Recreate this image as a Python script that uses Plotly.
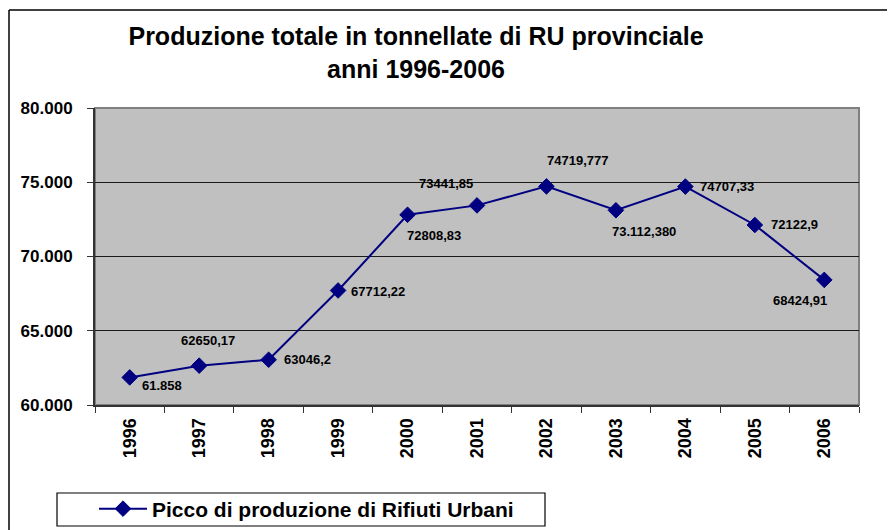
import plotly.graph_objects as go

years = ["1996", "1997", "1998", "1999", "2000", "2001", "2002", "2003", "2004", "2005", "2006"]
values = [61858, 62650.17, 63046.2, 67712.22, 72808.83, 73441.85, 74719.777, 73112.380, 74707.33, 72122.9, 68424.91]
value_labels = ["61.858", "62650,17", "63046,2", "67712,22", "72808,83", "73441,85",
                "74719,777", "73.112,380", "74707,33", "72122,9", "68424,91"]
series_name = "Picco di produzione di Rifiuti Urbani"
title_text = "Produzione totale in tonnellate di RU provinciale<br>anni 1996-2006"

# label placement styles (anchor, x offset px, y offset px)
label_style = [
    ("left", 10, -8), ("center", 9, 25), ("left", 13, 0), ("left", 11, -1),
    ("left", -3, -21), ("right", -2, 22), ("left", -1, 26), ("left", -6, -21),
    ("left", 13, 0), ("left", 14, 0), ("right", 5, -21),
]

OFF = 8  # page body margin
W, H = 895 - OFF, 530 - OFF
L, R, T, B = 95, 859, 108, 405  # plot area in reference pixels
pw, ph = R - L, B - T

def px(x):
    return (x - L) / pw

def py(y):
    return (B - y) / ph

FONT = "Arial, 'Liberation Sans', sans-serif"
NAVY = "#000080"

xpos = list(range(len(years)))  # category slots

fig = go.Figure()
fig.add_trace(go.Scatter(
    x=xpos, y=values, mode="lines+markers", name=series_name,
    line=dict(color=NAVY, width=2),
    marker=dict(symbol="diamond", size=12, color=NAVY, line=dict(color=NAVY, width=1)),
    showlegend=True,
))

annotations = []
for xi, v, txt, (anc, dx, dy) in zip(xpos, values, value_labels, label_style):
    annotations.append(dict(
        x=xi, y=v, xref="x", yref="y", text=txt, showarrow=False,
        xanchor=anc, yanchor="middle", xshift=dx, yshift=dy,
        font=dict(family=FONT, size=13, color="black", weight="bold"),
    ))

shapes = [
    dict(type="rect", xref="paper", yref="paper", x0=0, y0=0, x1=1, y1=1,
         line=dict(color="#808080", width=2), layer="below"),
    dict(type="line", xref="paper", yref="paper", x0=px(9), y0=py(10), x1=px(910), y1=py(10),
         line=dict(color="black", width=1.5)),
    dict(type="line", xref="paper", yref="paper", x0=px(9), y0=py(10), x1=px(9), y1=py(545),
         line=dict(color="black", width=1.5)),
    dict(type="rect", xref="paper", yref="paper", x0=px(57), y0=py(526), x1=px(545), y1=py(493),
         line=dict(color="black", width=1.2)),
]

fig.update_layout(
    width=W, height=H,
    margin=dict(l=L - OFF, r=895 - R, t=T - OFF, b=530 - B, autoexpand=False),
    paper_bgcolor="white", plot_bgcolor="#C0C0C0",
    separators=",.",
    title=dict(text=title_text, x=(416 - OFF) / W, xref="container", xanchor="center",
               y=1 - 37 / H, yref="container", yanchor="top",
               font=dict(family=FONT, size=25, color="black", weight="bold")),
    xaxis=dict(range=[-0.5, len(years) - 0.5], tickmode="array", tickvals=xpos, ticktext=years,
               ticks="", tickangle=-90, showgrid=False, zeroline=False,
               minor=dict(tickmode="linear", tick0=-0.5, dtick=1, ticks="outside", ticklen=6,
                          tickcolor="#333333", tickwidth=1, showgrid=False),
               showline=True, linecolor="#333333", linewidth=2,
               ticklabelstandoff=4, automargin=False,
               tickfont=dict(family=FONT, size=18, color="black", weight="bold")),
    yaxis=dict(range=[60000, 80000], dtick=5000, tickformat=",d", ticks="outside",
               ticklen=6, tickcolor="#333333", showgrid=True, gridcolor="#1a1a1a",
               gridwidth=1, showline=True, linecolor="#333333", linewidth=2,
               ticklabelstandoff=11, zeroline=False, automargin=False,
               tickfont=dict(family=FONT, size=17, color="black", weight="bold")),
    legend=dict(orientation="h", x=px(94), xanchor="left", y=py(509), yanchor="middle",
                itemwidth=48, bgcolor="rgba(0,0,0,0)", borderwidth=0,
                font=dict(family=FONT, size=21, color="black", weight="bold")),
    annotations=annotations,
    shapes=shapes,
)

fig.write_html("out.html")
